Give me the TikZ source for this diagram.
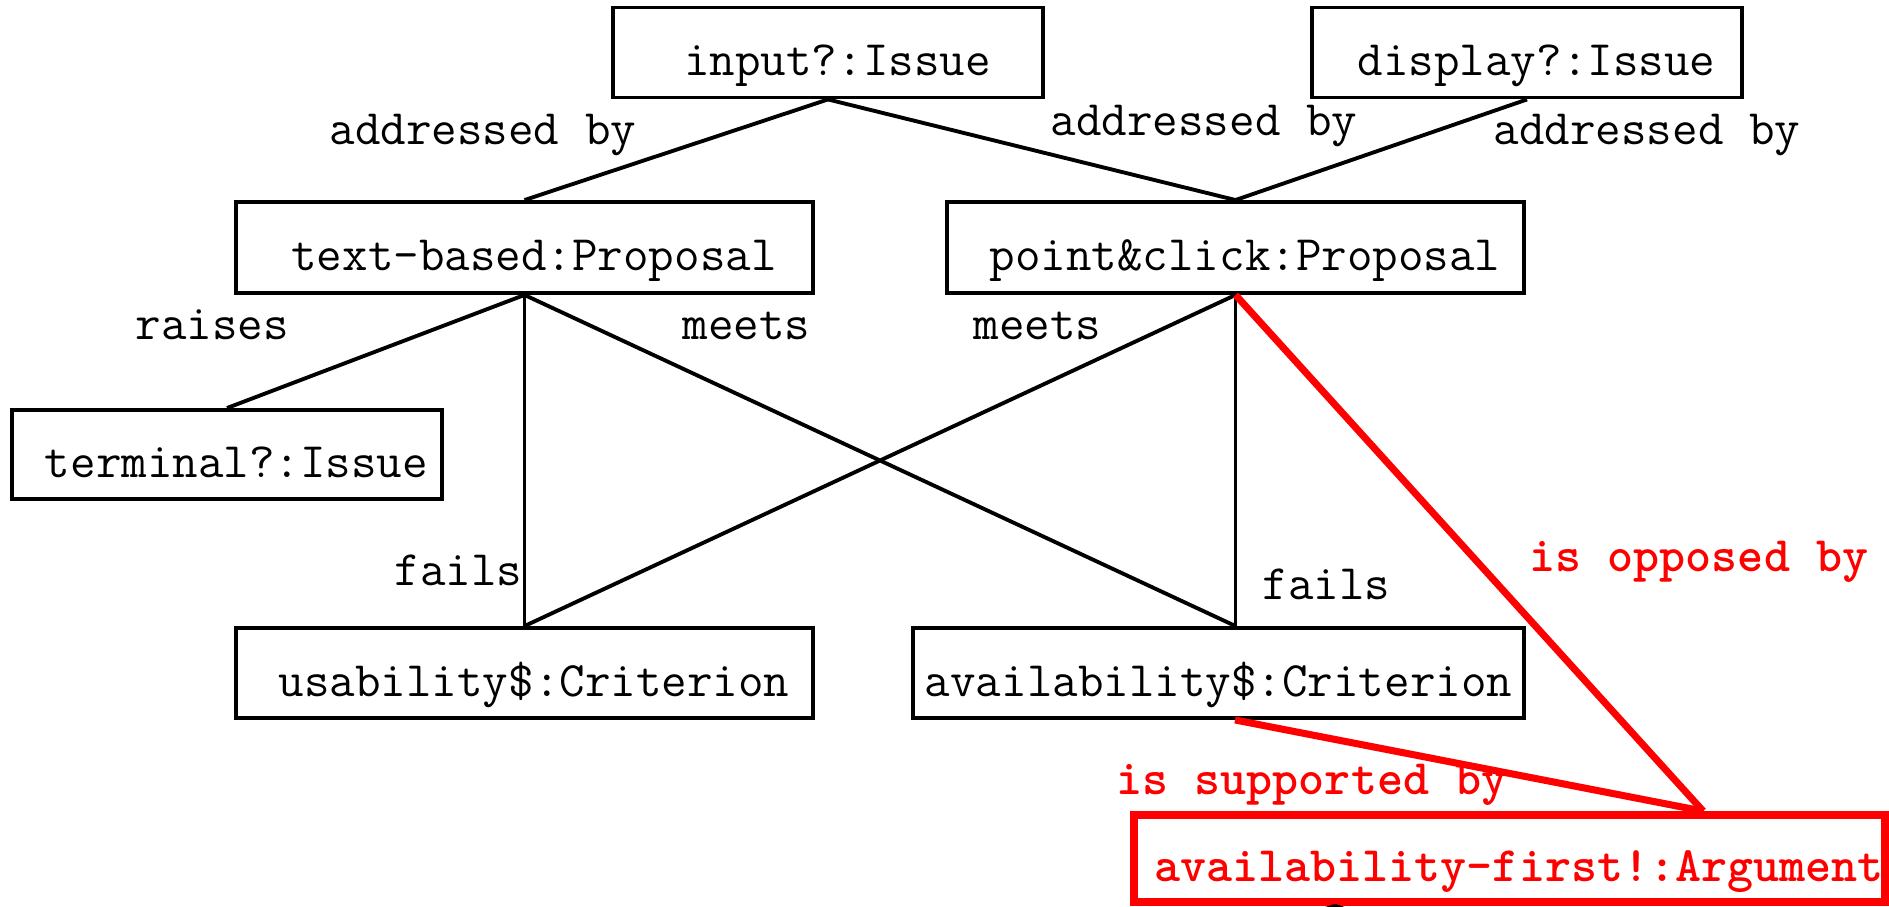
\documentclass[tikz,border=0pt]{standalone}
\usepackage{xcolor}
\usepackage{tikz}
\newcommand{\diagtext}{\ttfamily\fontsize{14.1}{16}\selectfont}
\tikzset{
  box/.style={rectangle, draw=black, line width=1.1pt, minimum width=#1,
              minimum height=0.9cm, inner sep=0pt,
              text height=0.66cm, text depth=0.2cm, font=\diagtext},
  box/.default=5.77cm,
  padded/.style={execute at begin node={\hspace*{0.19cm}}},
  argbox/.style={box=#1, draw=red, line width=2.2pt, text=red,
                 font=\diagtext\bfseries, minimum height=0.87cm},
  link/.style={line width=1.1pt},
  redlink/.style={draw=red, line width=2pt},
  edgelabel/.style={anchor=base west, inner sep=0pt, font=\diagtext},
  redlabel/.style={edgelabel, text=red, font=\diagtext\bfseries},
}

\begin{document}
\begin{tikzpicture}[x=0.01cm, y=-0.01cm]
\useasboundingbox (0,0) rectangle (1889,907);

% ── Issues ────────────────────────────────────────────────────────────────────
\node[box=4.3cm, padded] (input)   at (828,52.5)  {input?:Issue};
\node[box=4.3cm, padded] (display) at (1527,52.5) {display?:Issue};

% ── Proposals ─────────────────────────────────────────────────────────────────
\node[box, minimum height=0.91cm, padded] (textbased)  at (524.5,247.5)
  {text-based:Proposal};
\node[box, minimum height=0.91cm, padded] (pointclick) at (1235.5,247.5)
  {point\&click:Proposal};

\node[box=4.3cm, minimum height=0.89cm, padded] (terminal) at (227,454.5)
  {terminal?:Issue};

% ── Criteria ──────────────────────────────────────────────────────────────────
\node[box, padded] (usability) at (524.5,673) {usability\$:Criterion};
\node[box=6.11cm] (availability) at (1218.5,673) {availability\$:Criterion};

% ── Argument ──────────────────────────────────────────────────────────────────
\node[argbox=7.51cm, padded] (argument) at (1509.5,858.5)
  {availability-first!:Argument};
\coordinate (argin)  at ([xshift=1.935cm]argument.north);
\coordinate (argout) at ([xshift=-1.745cm]argument.south);

% ── Links: issues → proposals ─────────────────────────────────────────────────
\draw[link] (input.south) -- (textbased.north);
\draw[link] (input.south) -- (pointclick.north);
\draw[link] (display.south) -- (pointclick.north);

% ── Links: proposals → issue / criteria ───────────────────────────────────────
\draw[link] (textbased.south) -- (terminal.north);
\draw[link] (textbased.south) -- (textbased.south |- usability.north);
\draw[link] (textbased.south) -- (pointclick.south |- availability.north);
\draw[link] (pointclick.south) -- (textbased.south |- usability.north);
\draw[link] (pointclick.south) -- (pointclick.south |- availability.north);

% ── Links: argument ───────────────────────────────────────────────────────────
\draw[redlink] (pointclick.south) -- (argin);
\draw[redlink] ([xshift=0.165cm]availability.south) -- (argin);
\begin{scope}
  \clip (0,0) rectangle (1889,907);
  \draw[link] (argout) -- ++(-0.62cm,-0.2cm);
  \draw[link] (argout) -- ++(0.62cm,-0.2cm);
\end{scope}

% ── Labels ────────────────────────────────────────────────────────────────────
\node[edgelabel] (lab-in-tb) at (329,145)  {addressed by};
\node[edgelabel] (lab-in-pc) at (1050,136) {addressed by};
\node[edgelabel] (lab-di-pc) at (1493,145) {addressed by};
\node[edgelabel] (lab-raise) at (135,340)  {raises};
\node[edgelabel] (lab-meet1) at (682,340)  {meets};
\node[edgelabel] (lab-meet2) at (973,340)  {meets};
\node[edgelabel] (lab-fail1) at (394,585)  {fails};
\node[edgelabel] (lab-fail2) at (1262,599) {fails};
\node[redlabel] (lab-oppose)  at (1529,571) {is opposed by};
\node[redlabel] (lab-support) at (1116,794) {is supported by};

\end{tikzpicture}
\end{document}
